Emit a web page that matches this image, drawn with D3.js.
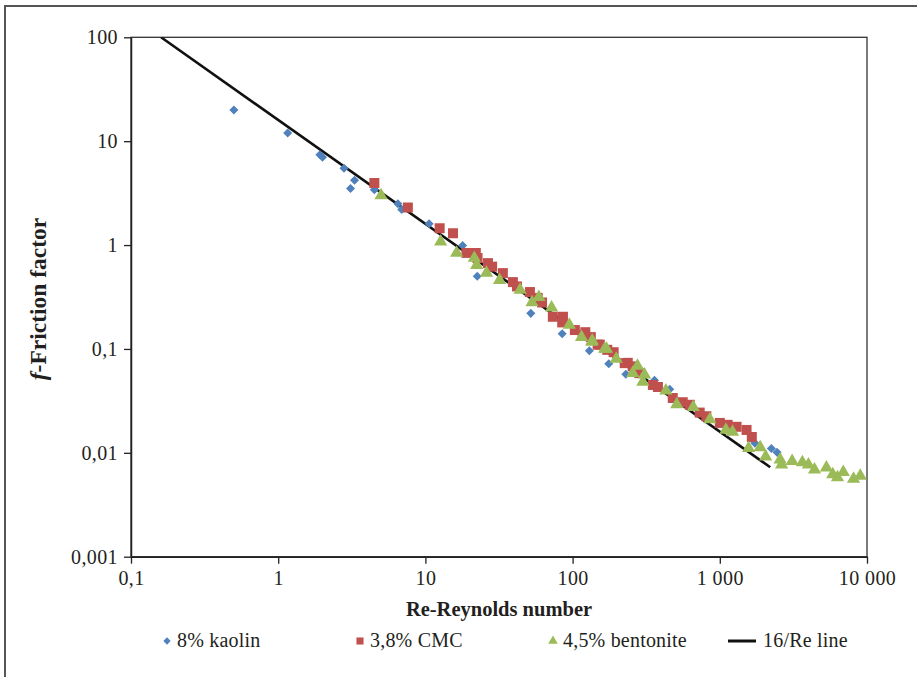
<!DOCTYPE html>
<html>
<head>
<meta charset="utf-8">
<script src="https://cdn.jsdelivr.net/npm/d3@7"></script>
<style>
  html, body { margin: 0; padding: 0; background: #fff; }
  svg { display: block; }
</style>
</head>
<body>
<svg id="chart" width="917" height="677"></svg>
<script>
// Friction factor vs Reynolds number for three non-Newtonian slurries
const kaolinRe = [0.5, 1.16, 1.92, 2.0, 2.8, 3.1, 3.3, 4.5, 6.5, 6.9, 10.6, 17.9, 22.5, 52, 85, 130, 176, 230, 360, 457, 1730, 2240, 2450];
const kaolinF  = [20, 12, 7.4, 7.0, 5.5, 3.5, 4.2, 3.4, 2.5, 2.2, 1.6, 0.99, 0.5, 0.22, 0.14, 0.096, 0.072, 0.057, 0.05, 0.041, 0.0124, 0.011, 0.0101];

const cmcRe = [4.5, 7.6, 12.5, 15.4, 19, 22, 22.6, 26.6, 28.4, 33.6, 39.3, 41.9, 51.3, 58, 62, 73.4, 86, 85, 103.6, 117, 122, 133, 148, 153, 172, 190, 226, 237, 256, 284, 351, 380, 479, 560, 625, 730, 810, 1000, 1130, 1300, 1520, 1650];
const cmcF  = [3.95, 2.3, 1.45, 1.3, 0.84, 0.84, 0.75, 0.67, 0.62, 0.537, 0.44, 0.40, 0.353, 0.31, 0.28, 0.204, 0.204, 0.18, 0.152, 0.136, 0.145, 0.13, 0.11, 0.11, 0.098, 0.093, 0.073, 0.0735, 0.068, 0.0585, 0.045, 0.043, 0.0337, 0.0307, 0.029, 0.0244, 0.0225, 0.0194, 0.0186, 0.0178, 0.0166, 0.0142];

const bentRe = [5.0, 12.7, 16.3, 21.5, 22.3, 26, 31.9, 44, 53, 59, 72, 95, 115, 135, 136, 165, 170, 198, 256, 276, 300, 308, 430, 510, 660, 855, 1100, 1220, 1570, 1880, 2050, 2570, 2630, 3100, 3640, 4000, 4400, 5300, 5850, 6300, 6900, 8100, 9000];
const bentF  = [3.0, 1.08, 0.84, 0.75, 0.64, 0.54, 0.46, 0.37, 0.28, 0.315, 0.25, 0.17, 0.13, 0.117, 0.12, 0.1, 0.1, 0.08, 0.0585, 0.0685, 0.0482, 0.0565, 0.0397, 0.0293, 0.0275, 0.021, 0.0166, 0.0159, 0.0111, 0.0113, 0.0092, 0.0086, 0.0077, 0.0083, 0.0081, 0.0077, 0.0069, 0.0072, 0.0062, 0.0058, 0.0065, 0.0056, 0.006];

// Laminar reference line f = 16/Re, drawn between its two end points
const lineRe = [0.16, 2200];
const lineF  = [100, 0.00727];

const xTicks = [0.1, 1, 10, 100, 1000, 10000];
const xTickLabels = ["0,1", "1", "10", "100", "1 000", "10 000"];
const yTicks = [0.001, 0.01, 0.1, 1, 10, 100];
const yTickLabels = ["0,001", "0,01", "0,1", "1", "10", "100"];

const seriesNames = ["8% kaolin", "3,8% CMC", "4,5% bentonite", "16/Re line"];
const colors = { kaolin: "#4f81bd", cmc: "#c0504d", bent: "#9bbb59", line: "#111" };

const FONT = "'Liberation Serif', 'DejaVu Serif', serif";
const INK = "#231f20";

const svg = d3.select("#chart");
const plot = { left: 131, right: 867, top: 37.3, bottom: 556.7 };

const x = d3.scaleLog().domain([0.1, 10000]).range([plot.left, plot.right]);
const y = d3.scaleLog().domain([0.001, 100]).range([plot.bottom, plot.top]);

// outer frame (top and left edges)
svg.append("path")
  .attr("d", "M5,677 L5,6 L917,6")
  .attr("fill", "none").attr("stroke", "#555").attr("stroke-width", 2);

// plot box
svg.append("rect")
  .attr("x", plot.left).attr("y", plot.top)
  .attr("width", plot.right - plot.left).attr("height", plot.bottom - plot.top)
  .attr("fill", "none").attr("stroke", "#333").attr("stroke-width", 1.3);

// axes
const xAxis = d3.axisBottom(x).tickValues(xTicks)
  .tickFormat((d, i) => xTickLabels[i]).tickSize(7).tickSizeOuter(0).tickPadding(7);
const yAxis = d3.axisLeft(y).tickValues(yTicks)
  .tickFormat((d, i) => yTickLabels[i]).tickSize(7).tickSizeOuter(0).tickPadding(6);

const gx = svg.append("g").attr("transform", `translate(0,${plot.bottom})`).call(xAxis);
const gy = svg.append("g").attr("transform", `translate(${plot.left},0)`).call(yAxis);
[gx, gy].forEach(g => {
  g.attr("font-family", FONT).attr("font-size", 20);
  g.select(".domain").attr("stroke", "#222").attr("stroke-width", 1.5);
  g.selectAll(".tick line").attr("stroke", "#222").attr("stroke-width", 1.3);
  g.selectAll(".tick text").attr("fill", INK).attr("letter-spacing", 0.4);
});

// axis titles
svg.append("text")
  .attr("x", 499).attr("y", 616)
  .attr("text-anchor", "middle").attr("font-family", FONT)
  .attr("font-size", 20.5).attr("font-weight", "bold").attr("fill", INK)
  .text("Re-Reynolds number");

const yt = svg.append("text")
  .attr("transform", `translate(46,${(plot.top + plot.bottom) / 2 + 2}) rotate(-90)`)
  .attr("text-anchor", "middle").attr("font-family", FONT)
  .attr("font-size", 23.5).attr("font-weight", "bold").attr("fill", INK);
yt.append("tspan").attr("font-style", "italic").text("f");
yt.append("tspan").text("-Friction factor");

// clip for the data area
svg.append("clipPath").attr("id", "plotClip")
  .append("rect").attr("x", plot.left).attr("y", plot.top)
  .attr("width", plot.right - plot.left).attr("height", plot.bottom - plot.top);

const dataG = svg.append("g").attr("clip-path", "url(#plotClip)");

// 16/Re line
const linePts = lineRe.map((r, i) => [r, lineF[i]]);
dataG.append("path")
  .attr("d", d3.line().x(d => x(d[0])).y(d => y(d[1]))(linePts))
  .attr("fill", "none").attr("stroke", colors.line).attr("stroke-width", 2.6);

const sym = {
  diamond: d3.symbol().type(d3.symbolDiamond2).size(52)(),
  square: d3.symbol().type(d3.symbolSquare).size(100)(),
  triangle: d3.symbol().type(d3.symbolTriangle).size(76)()
};

function drawSeries(reArr, fArr, path, color) {
  dataG.append("g").selectAll("path")
    .data(reArr.map((r, i) => [r, fArr[i]]))
    .join("path")
    .attr("d", path)
    .attr("transform", d => `translate(${x(d[0])},${y(d[1])})`)
    .attr("fill", color);
}
drawSeries(kaolinRe, kaolinF, sym.diamond, colors.kaolin);
drawSeries(cmcRe, cmcF, sym.square, colors.cmc);
drawSeries(bentRe, bentF, sym.triangle, colors.bent);

// legend
const legendY = 641;
const legendItems = [
  { x: 167, shape: "diamond", color: colors.kaolin, label: seriesNames[0] },
  { x: 360, shape: "square", color: colors.cmc, label: seriesNames[1] },
  { x: 553, shape: "triangle", color: colors.bent, label: seriesNames[2] },
  { x: 742, shape: "line", color: colors.line, label: seriesNames[3] }
];
const lg = svg.append("g");
legendItems.forEach(it => {
  if (it.shape === "line") {
    lg.append("line").attr("x1", it.x - 14).attr("x2", it.x + 14)
      .attr("y1", legendY).attr("y2", legendY)
      .attr("stroke", it.color).attr("stroke-width", 3);
  } else {
    const p = it.shape === "diamond" ? d3.symbol().type(d3.symbolDiamond2).size(34)()
            : it.shape === "square" ? d3.symbol().type(d3.symbolSquare).size(50)()
            : d3.symbol().type(d3.symbolTriangle).size(40)();
    lg.append("path").attr("d", p).attr("fill", it.color)
      .attr("transform", `translate(${it.x},${legendY})`);
  }
  lg.append("text")
    .attr("x", it.x + (it.shape === "line" ? 21 : 10)).attr("y", legendY + 6)
    .attr("font-family", FONT).attr("font-size", 20).attr("fill", INK)
    .attr("letter-spacing", 0.2)
    .text(it.label);
});
</script>
</body>
</html>
